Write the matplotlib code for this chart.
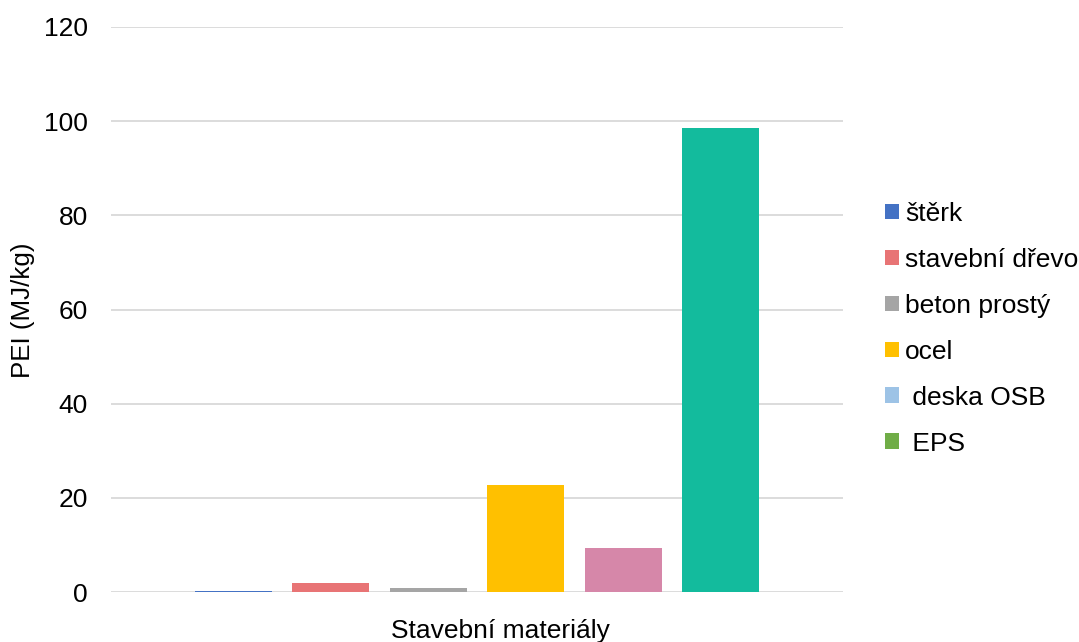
import matplotlib.pyplot as plt
from matplotlib.patches import Patch

plt.rcParams['font.family'] = ['Liberation Sans', 'DejaVu Sans']

# Data
materials = ["štěrk", "stavební dřevo", "beton prostý", "ocel", " deska OSB", " EPS"]
pei = [0.15, 1.9, 0.85, 22.7, 9.3, 98.5]

# Bar colours differ from the legend swatches for the last two series (as in the source)
barColours = ["#4472C4", "#E87475", "#A5A5A5", "#FFC000", "#D687A9", "#13BB9D"]
legendColours = ["#4472C4", "#E87475", "#A5A5A5", "#FFC000", "#9DC3E6", "#70AD47"]

yTicks = [0, 20, 40, 60, 80, 100, 120]

fig = plt.figure(figsize=(10.79, 6.42), dpi=100)
ax = fig.add_axes([111/1079, 1 - 592/642, (843 - 111)/1079, (592 - 27)/642])

positions = list(range(len(materials)))
ax.bar(positions, pei, width=0.79, color=barColours, zorder=3)

ax.set_xlim(-1.258, 6.258)
ax.set_ylim(0, 120)
ax.set_yticks(yTicks)
ax.set_xticks([])
ax.yaxis.grid(True, color="#D9D9D9", linewidth=1.3, zorder=0)
ax.tick_params(axis="y", length=0, pad=16.5, labelsize=19)
for side in ["top", "right", "left", "bottom"]:
    ax.spines[side].set_visible(False)

# Axis titles
fig.text(23/1079, 1 - 310/642, "PEI (MJ/kg)", rotation=90, ha="center", va="center", fontsize=18.7)
fig.text(500/1079, 1 - 638/642, "Stavební materiály", ha="center", va="baseline", fontsize=19)

# Legend on the right
handles = [Patch(facecolor=c, edgecolor="none") for c in legendColours]
fig.legend(handles, materials, loc="upper left", bbox_to_anchor=(885/1079, 1 - 202/642),
           frameon=False, fontsize=19, handlelength=0.53, handleheight=0.53,
           handletextpad=0.23, labelspacing=0.83, borderaxespad=0, borderpad=0)

fig.savefig("out.png", dpi=100)
